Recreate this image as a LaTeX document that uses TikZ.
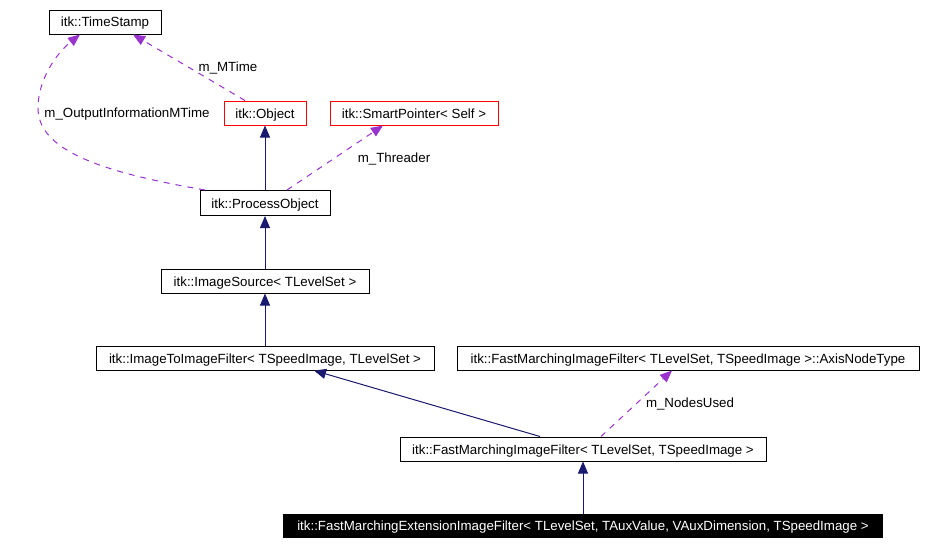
\documentclass[tikz,border=0pt]{standalone}
\usepackage{fontspec}
\setmainfont{Liberation Sans}
\usetikzlibrary{arrows.meta}
\definecolor{inhcol}{HTML}{191970}
\definecolor{usecol}{HTML}{9A32CD}
\begin{document}
\begin{tikzpicture}[x=1pt,y=-1pt,
  every node/.style={font=\fontsize{13.3}{16}\selectfont,text height=12pt,text depth=2pt},
  cls/.style={draw=black,line width=1pt,inner sep=0pt,minimum height=24pt,fill=white},
  redcls/.style={cls,draw=red},
  blackcls/.style={cls,fill=black,text=white},
  inh/.style={draw=inhcol,line width=1pt,-{Triangle[length=12pt,width=10pt]}},
  use/.style={draw=usecol,line width=1pt,dash pattern=on 6pt off 6pt,-{Triangle[length=12pt,width=10pt]}},
  lbl/.style={inner sep=0pt}]
\useasboundingbox (0,0) rectangle (927,546);
\fill[white] (0,0) rectangle (927,546);
% classes
\node[cls,minimum width=112pt] (ts) at (105,22) {itk::TimeStamp};
\node[redcls,minimum width=82pt] (obj) at (265,113) {itk::Object};
\node[redcls,minimum width=168pt] (sp) at (414,113) {itk::SmartPointer< Self >};
\node[cls,minimum width=130pt,minimum height=25pt] (po) at (265,203) {itk::ProcessObject};
\node[cls,minimum width=208pt] (is) at (265,281) {itk::ImageSource< TLevelSet >};
\node[cls,minimum width=338pt] (itif) at (265,358) {itk::ImageToImageFilter< TSpeedImage, TLevelSet >};
\node[cls,minimum width=462pt] (axis) at (688,358) {itk::FastMarchingImageFilter< TLevelSet, TSpeedImage >::AxisNodeType};
\node[cls,minimum width=366pt] (fmif) at (583,449) {itk::FastMarchingImageFilter< TLevelSet, TSpeedImage >};
\node[blackcls,minimum width=599pt,minimum height=23pt] (ext) at (583,525.5) {itk::FastMarchingExtensionImageFilter< TLevelSet, TAuxValue, VAuxDimension, TSpeedImage >};
% inheritance
\draw[inh] (po.north) -- (obj.south);
\draw[inh] (is.north) -- (po.south);
\draw[inh] (itif.north) -- (is.south);
\draw[inh] ([xshift=-43pt]fmif.north) -- ([xshift=49pt]itif.south);
\draw[inh] (ext.north) -- (fmif.south);
% usage
\draw[use] ([xshift=-20pt]obj.north) -- ([xshift=28pt]ts.south);
\draw[use] ([xshift=-60pt]po.north) .. controls (100,172) and (38,150) .. (38,108) .. controls (38,78) and (58,52) .. ([xshift=-25pt]ts.south);
\draw[use] ([xshift=22pt]po.north) -- ([xshift=-31pt]sp.south);
\draw[use] ([xshift=18pt]fmif.north) -- ([xshift=-16pt]axis.south);
% labels
\node[lbl] (l1) at (228,66) {m\_MTime};
\node[lbl] (l2) at (127,112) {m\_OutputInformationMTime};
\node[lbl] (l3) at (394,157) {m\_Threader};
\node[lbl] (l4) at (690,402) {m\_NodesUsed};
\end{tikzpicture}
\end{document}
